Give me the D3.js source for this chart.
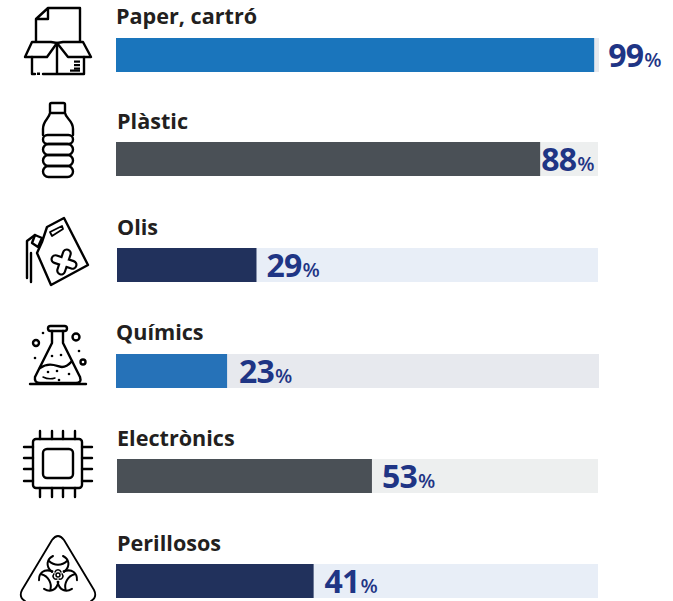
<!DOCTYPE html>
<html><head><meta charset="utf-8">
<script src="https://cdn.jsdelivr.net/npm/d3@7"></script>
<style>html,body{margin:0;padding:0;background:#fff}svg{display:block}</style>
</head><body><div id="chart"></div>
<script>
const categories = ["Paper, cartró","Plàstic","Olis","Químics","Electrònics","Perillosos"];
const values = [99,88,29,23,53,41];
const barColors = ["#1a75bc","#4a5056","#21315c","#2672b8","#4a5056","#21315c"];
const trackColors = ["#e7e9ee","#edefef","#e8eef7","#e7e9ee","#edefef","#e8eef7"];
// small per-row layout nudges
const rowLeft = [116,116,117,116,117,116];
const rowRight = [599,598,598,599,598,598];
const rowTop = [38,142,248,354,459,564];
const labelGap = [14,13,13,14,13,13];
const valueGap = [14,1,10,12,10,11];

const W=673,H=601,barH=34;
const svg=d3.select("#chart").append("svg").attr("width",W).attr("height",H);
const font="'Open Sans',sans-serif";

const rows=svg.selectAll("g.row").data(categories).join("g").attr("class","row");
rows.each(function(c,i){
  const g=d3.select(this);
  const x=d3.scaleLinear().domain([0,100]).range([rowLeft[i],rowRight[i]]);
  const y=rowTop[i];
  g.append("rect").attr("x",x(0)).attr("y",y).attr("width",x(100)-x(0)).attr("height",barH).attr("fill",trackColors[i]);
  g.append("rect").attr("x",x(0)).attr("y",y).attr("width",x(values[i])-x(0)).attr("height",barH).attr("fill",barColors[i]);
  g.append("text").attr("x",x(0)+(i==1||i==5?1:0)).attr("y",y-labelGap[i]).attr("font-family",font).attr("font-weight",700)
    .attr("font-size",21.6).attr("fill","#231f20").text(c);
  const t=g.append("text").attr("x",x(values[i])+valueGap[i]).attr("y",y+29).attr("font-family",font).attr("fill","#1f3585");
  t.append("tspan").attr("font-size",32).attr("font-weight",700).attr("letter-spacing",-0.8).text(values[i]);
  t.append("tspan").attr("font-size",20).attr("font-weight",600).attr("dx",1).text("%");
});

// icons
const sw=2.4;
const ic=svg.append("g").attr("fill","none").attr("stroke","#000").attr("stroke-width",sw).attr("stroke-linejoin","round").attr("stroke-linecap","round");
const p=(d,w,par)=>(par||ic).append("path").attr("d",d).attr("stroke-width",w||sw);
const dot=(cx,cy,r)=>ic.append("circle").attr("cx",cx).attr("cy",cy).attr("r",r).attr("fill","#000").attr("stroke","none");
const ring=(cx,cy,r)=>ic.append("circle").attr("cx",cx).attr("cy",cy).attr("r",r);

// paper + box
p("M36,41V19L48,8H80V41M48,8V19H36");
p("M25,57L32,42H51L57,43L47,57ZM57,43L63,42H83L91,57H68Z");
p("M32,57V74H35M43,74H84V57M57,43V74");
ic.append("rect").attr("x",37).attr("y",72.5).attr("width",3).attr("height",2.5).attr("fill","#000").attr("stroke","none");
[[74,60.5,6],[74,64,6],[74,67.5,6],[70,69.5,10]].forEach(r=>ic.append("rect").attr("x",r[0]).attr("y",r[1]).attr("width",r[2]).attr("height",2.2).attr("fill","#000").attr("stroke","none"));

// bottle
ic.append("rect").attr("x",50).attr("y",103).attr("width",15).attr("height",10).attr("rx",1.5);
p("M50,113C49,119 43,120 43,129V135M65,113C66,119 73,120 73,129V135");
[[135,9],[144,11],[155,11],[166,11]].forEach(l=>ic.append("rect").attr("x",43).attr("y",l[0]).attr("width",30).attr("height",l[1]).attr("rx",l[1]/2));

// oil can
p("M47,227L64,218L88,265L51,285L37,253L42,242Z");
p("M50,232L62,226L63,229L52,236Z",1.8);
p("M35,235L42,238L38,247L32,243Z");
p("M35,235L27,241V278M31,253V282");
const xArms="M55.5,259.2L72.5,264.8M66.8,253.5L61.2,270.5";
ic.append("path").attr("d",xArms).attr("stroke-width",10);
ic.append("path").attr("d",xArms).attr("stroke","#fff").attr("stroke-width",5.6);

// flask
p("M30,384H86");
ic.append("rect").attr("x",48).attr("y",326).attr("width",19).attr("height",5).attr("rx",2.5);
p("M52,331V343L35,377Q34,383 40,383H76Q82,383 80,377L63,343V331");
p("M40,368C50,361 58,367 62,367C68,367 70,363 72,361");
p("M43,377C47,379 52,379 55,378",1.5);
ring(36,343,3);ring(76,337,3.5);ring(83,362,2.5);
[[43,333],[79,351],[35,358],[52,356],[61,355],[48,372],[57,371],[69,374],[59,380]].forEach(d=>dot(d[0],d[1],1.3));

// chip
ic.append("rect").attr("x",33).attr("y",439).attr("width",49).attr("height",49).attr("rx",3);
ic.append("rect").attr("x",43).attr("y",449).attr("width",30).attr("height",29).attr("rx",4);
[40,52,63,75].forEach(v=>p(`M${v},431V439M${v},488V497`));
[447,458,469,481].forEach(v=>p(`M24,${v}H33M82,${v}H92`));

// biohazard
p("M25,601C20,598 20,594 22,590L52,540Q58,532 64,540L94,590C96,594 96,598 91,601",1.8);
[0,120,240].forEach(a=>{
  const b=ic.append("g").attr("transform",`translate(58,575) rotate(${a})`);
  b.append("path").attr("d","M-6,-3C-13,-9 -11,-16 -5,-19M6,-3C13,-9 11,-16 5,-19M-9,-14C-4,-9 4,-9 9,-14").attr("stroke-width",2);
  b.append("path").attr("d","M-3,-3C-2,-6 2,-6 3,-3").attr("stroke-width",1.5);
});
ring(58,575,2).attr("stroke-width",1.5);
</script></body></html>
